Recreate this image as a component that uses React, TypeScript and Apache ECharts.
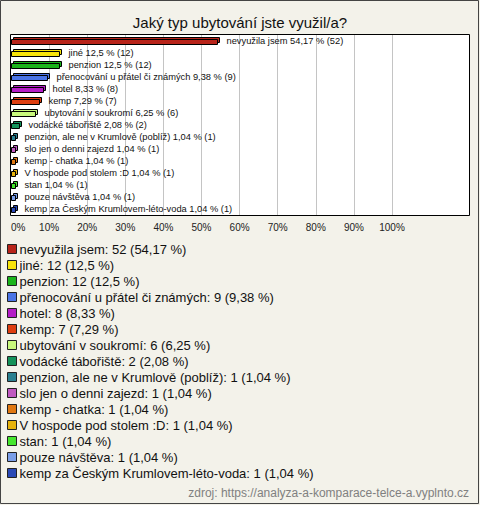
import React, { useEffect, useRef } from "react";
import * as echarts from "echarts";

const categories = [
  "nevyužila jsem",
  "jiné",
  "penzion",
  "přenocování u přátel či známých",
  "hotel",
  "kemp",
  "ubytování v soukromí",
  "vodácké tábořiště",
  "penzion, ale ne v Krumlově (poblíž)",
  "slo jen o denni zajezd",
  "kemp - chatka",
  "V hospode pod stolem :D",
  "stan",
  "pouze návštěva",
  "kemp za Českým Krumlovem-léto-voda",
];
const counts = [52, 12, 12, 9, 8, 7, 6, 2, 1, 1, 1, 1, 1, 1, 1];
const percents = [54.17, 12.5, 12.5, 9.38, 8.33, 7.29, 6.25, 2.08, 1.04, 1.04, 1.04, 1.04, 1.04, 1.04, 1.04];
const colors = [
  "#b8241a", "#f7e40a", "#1bb41b", "#4a74e6", "#b41ec6", "#de3e10", "#c8f87c", "#14925a",
  "#2a8090", "#c05ac0", "#e07812", "#e6b20c", "#46e62e", "#7a9ee8", "#2a4ab6",
];
const xTicks = [0, 10, 20, 30, 40, 50, 60, 70, 80, 90, 100];
const title = "Jaký typ ubytování jste využil/a?";
const source = "zdroj: https://analyza-a-komparace-telce-a.vyplnto.cz";

const fmt = (p: number) => String(p).replace(".", ",");
const FONT = "Liberation Sans, Arial, sans-serif";

export default function App() {
  const ref = useRef<HTMLDivElement>(null);
  useEffect(() => {
    document.body.style.margin = "0";
    const chart = echarts.init(ref.current!, undefined, { renderer: "svg" });
    const series = categories.map((name, i) => ({
      type: "custom",
      name,
      color: colors[i],
      data: [[percents[i], i]],
      clip: false,
      renderItem: (params: any, api: any) => {
        const v = api.value(0);
        const idx = api.value(1);
        const p0 = api.coord([0, idx]);
        const p1 = api.coord([v, idx]);
        const h = 5;
        const d = 2;
        const x0 = Math.round(p0[0]) + 0.5;
        const w = Math.max(1, Math.round(p1[0] - p0[0]));
        const yTop = Math.round(p0[1] - h / 2) + 0.5;
        return {
          type: "group",
          children: [
            {
              type: "rect",
              shape: { x: x0 + d, y: yTop - d, width: w, height: h },
              style: { fill: colors[i], stroke: "#000", lineWidth: 1 },
            },
            {
              type: "rect",
              shape: { x: x0, y: yTop, width: w, height: h },
              style: { fill: colors[i], stroke: "#000", lineWidth: 1 },
            },
            {
              type: "text",
              x: x0 + w + 9,
              y: Math.round(p0[1]),
              style: {
                text: `${categories[i]} ${fmt(percents[i])} % (${counts[i]})`,
                fontSize: 9.3,
                fontFamily: FONT,
                fill: "#111",
                verticalAlign: "middle",
                align: "left",
              },
            },
          ],
        };
      },
    }));
    const legendMap: Record<string, string> = {};
    categories.forEach((c, i) => {
      legendMap[c] = `${c}: ${counts[i]} (${fmt(percents[i])} %)`;
    });
    chart.setOption({
      animation: false,
      backgroundColor: "#f3f2ea",
      title: {
        text: title,
        left: "center",
        top: 10,
        textStyle: { fontSize: 15, fontWeight: "normal", color: "#111", fontFamily: FONT },
      },
      grid: { left: 11, top: 35, width: 381, height: 180, containLabel: false },
      xAxis: {
        type: "value",
        min: 0,
        max: 100,
        interval: 10,
        axisLine: { show: false },
        axisTick: { show: false },
        splitLine: { show: true, showMinLine: false, lineStyle: { color: "#c4c4c4", width: 1 } },
        axisLabel: {
          formatter: (v: number) => (xTicks.includes(v) ? `${v}%` : ""),
          fontSize: 10,
          fontFamily: FONT,
          color: "#222",
          margin: 7,
          alignMinLabel: "left",
        },
      },
      yAxis: {
        type: "category",
        inverse: true,
        data: categories,
        show: false,
      },
      legend: {
        orient: "vertical",
        left: 7,
        top: 241,
        padding: 0,
        itemWidth: 9,
        itemHeight: 9,
        itemGap: 0,
        icon: "rect",
        selectedMode: false,
        itemStyle: { borderColor: "#222", borderWidth: 1 },
        textStyle: { fontSize: 13, fontFamily: FONT, color: "#111", lineHeight: 16, padding: [0, 0, 0, -2] },
        formatter: (name: string) => legendMap[name],
        data: categories,
      },
      graphic: [
        {
          type: "rect",
          z: -10,
          shape: { x: 11, y: 35, width: 458, height: 180 },
          style: { fill: "#fff" },
        },
        {
          type: "rect",
          z: 100,
          shape: { x: 10.5, y: 34.5, width: 459, height: 181 },
          style: { fill: "none", stroke: "#000", lineWidth: 1 },
        },
        {
          type: "rect",
          z: 100,
          shape: { x: 0.5, y: 0.5, width: 478, height: 503 },
          style: { fill: "none", stroke: "#444", lineWidth: 1 },
        },
        {
          type: "text",
          right: 11,
          top: 487,
          style: { text: source, fontSize: 12, fontFamily: FONT, fill: "#808080" },
        },
      ],
      series,
    });
    return () => chart.dispose();
  }, []);
  return <div ref={ref} style={{ width: 480, height: 505 }} />;
}
